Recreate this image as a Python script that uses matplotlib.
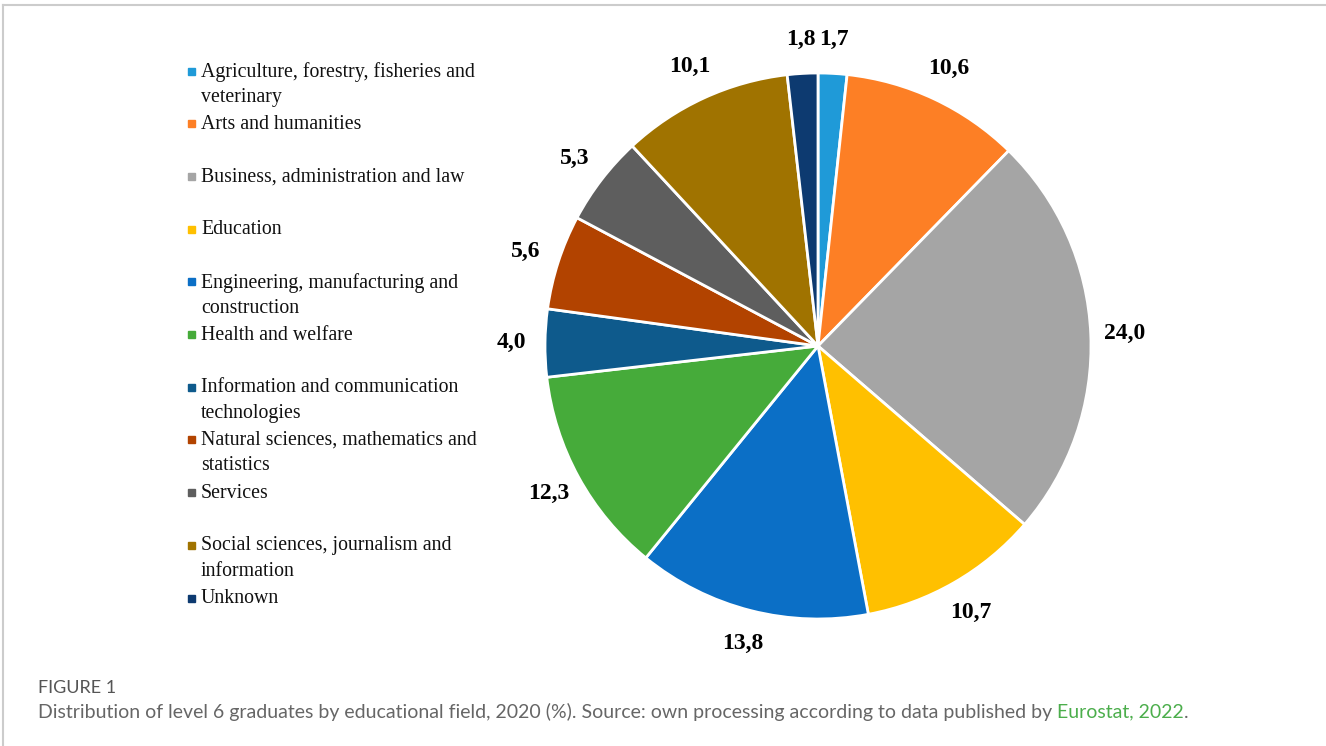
import matplotlib
matplotlib.use('Agg')
import matplotlib.pyplot as plt
from matplotlib.patches import Rectangle
from matplotlib.lines import Line2D

fields = [
    'Agriculture, forestry, fisheries and\nveterinary',
    'Arts and humanities',
    'Business, administration and law',
    'Education',
    'Engineering, manufacturing and\nconstruction',
    'Health and welfare',
    'Information and communication\ntechnologies',
    'Natural sciences, mathematics and\nstatistics',
    'Services',
    'Social sciences, journalism and\ninformation',
    'Unknown',
]
shares = [1.7, 10.6, 24.0, 10.7, 13.8, 12.3, 4.0, 5.6, 5.3, 10.1, 1.8]
colors = ['#1f9ad8', '#fd7f25', '#a5a5a5', '#ffc000', '#0b6fc6', '#46ab3a',
          '#0e5a8c', '#b24300', '#5e5e5e', '#a07300', '#0d3a70']

W, H = 1326, 746
fig = plt.figure(figsize=(W / 100, H / 100), dpi=100)

# frame lines (top and left)
fig.add_artist(Line2D([3 / W, 1], [1 - 4.5 / H, 1 - 4.5 / H], color='#cccccc', lw=1.5))
fig.add_artist(Line2D([3 / W, 3 / W], [0, 1 - 4.5 / H], color='#cccccc', lw=1.5))

# pie
cx, cy, r = 818, 346, 273
ax = fig.add_axes([(cx - r) / W, (H - cy - r) / H, 2 * r / W, 2 * r / H])
labels = [f'{v:.1f}'.replace('.', ',') for v in shares]
wedges, texts = ax.pie(shares, colors=colors, startangle=90, counterclock=False,
                       labels=labels, labeldistance=1.125, radius=1,
                       wedgeprops=dict(edgecolor='white', linewidth=2))
for t in texts:
    t.set_ha('center')
    t.set_va('center')
    t.set_fontfamily('Liberation Serif')
    t.set_fontweight('bold')
    t.set_fontsize(17)
ax.set_xlim(-1, 1)
ax.set_ylim(-1, 1)
ax.set_aspect('auto')
ax.axis('off')

# legend, drawn by hand to keep even spacing
y0, step = 71, 52.7
for i, (name, c) in enumerate(zip(fields, colors)):
    y = y0 + i * step
    fig.add_artist(Rectangle((188 / W, 1 - (y + 3.5) / H), 7 / W, 7 / H,
                             color=c, transform=fig.transFigure))
    fig.text(201 / W, 1 - (y - 9) / H, name, ha='left', va='top',
             fontfamily='Liberation Serif', fontsize=14.3, color='#111111',
             linespacing=1.45)

# caption
fig.text(38 / W, 1 - 688 / H, 'FIGURE 1', ha='left', va='center',
         fontfamily='Lato', fontsize=13, color='#555555')
cap = fig.text(38 / W, 1 - 712 / H,
               'Distribution of level 6 graduates by educational field, 2020 (%). '
               'Source: own processing according to data published by ',
               ha='left', va='center', fontfamily='Lato', fontsize=14, color='#666666')
fig.canvas.draw()
bb = cap.get_window_extent()
src = fig.text(bb.x1 / W, 1 - 712 / H, 'Eurostat, 2022', ha='left', va='center',
               fontfamily='Lato', fontsize=14, color='#4cae4c')
fig.canvas.draw()
bb2 = src.get_window_extent()
fig.text(bb2.x1 / W, 1 - 712 / H, '.', ha='left', va='center',
         fontfamily='Lato', fontsize=14, color='#666666')

fig.savefig('out.png', dpi=100)
